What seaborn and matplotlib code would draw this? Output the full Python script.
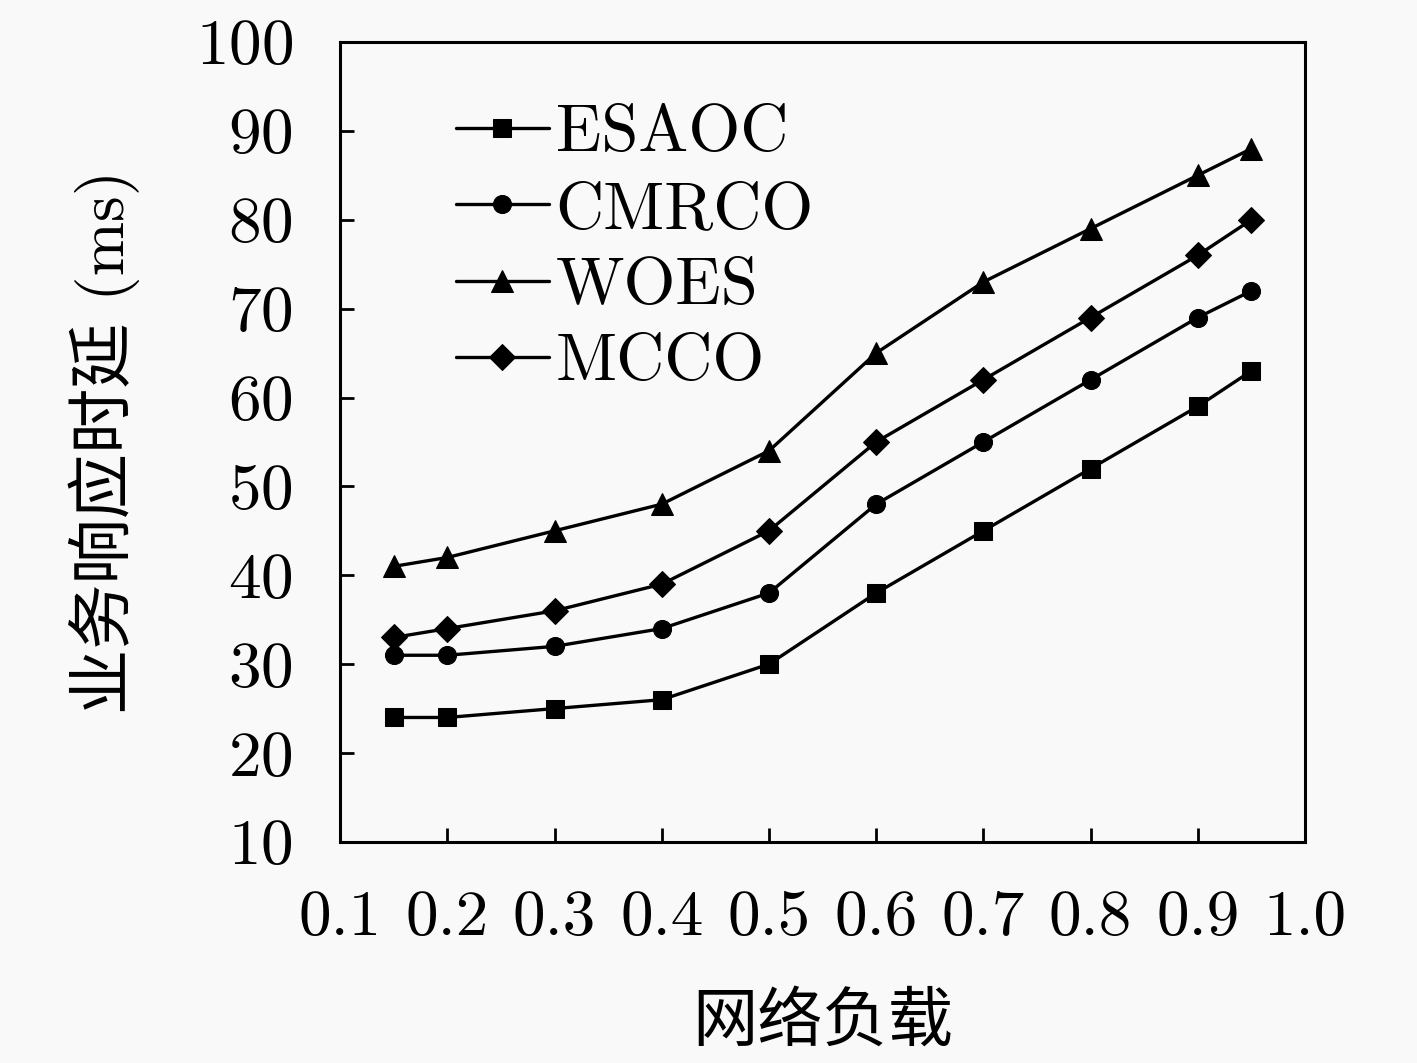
import numpy as np
import pandas as pd
import matplotlib
matplotlib.use("Agg")
import matplotlib.pyplot as plt
import seaborn as sns

# network load
load = [0.15, 0.2, 0.3, 0.4, 0.5, 0.6, 0.7, 0.8, 0.9, 0.95]
esaoc = [24, 24, 25, 26, 30, 38, 45, 52, 59, 63]
cmrco = [31, 31, 32, 34, 38, 48, 55, 62, 69, 72]
woes = [41, 42, 45, 48, 54, 65, 73, 79, 85, 88]
mcco = [33, 34, 36, 39, 45, 55, 62, 69, 76, 80]
names = ["ESAOC", "CMRCO", "WOES", "MCCO"]

sns.set_theme(style="ticks")
plt.rcParams["font.family"] = ["cmr10", "Noto Sans CJK SC"]
plt.rcParams["axes.formatter.use_mathtext"] = True
plt.rcParams["axes.unicode_minus"] = False
plt.rcParams["text.color"] = "black"
plt.rcParams["axes.labelcolor"] = "black"

df = pd.DataFrame({
    "load": load * 4,
    "delay": esaoc + cmrco + woes + mcco,
    "alg": [n for n in names for _ in load],
})

fig = plt.figure(figsize=(14.17, 10.63), dpi=100)
fig.patch.set_facecolor("#f9f9f9")
ax = fig.add_axes([0.24, 0.208, 0.681, 0.7525])
ax.set_facecolor("#f9f9f9")

sns.lineplot(data=df, x="load", y="delay", hue="alg", style="alg",
             hue_order=names, style_order=names,
             palette=["black"] * 4, markers=["s", "o", "^", "D"], dashes=False,
             linewidth=2.4, markersize=13, markeredgecolor="black", ax=ax)
for ln in ax.lines:
    if ln.get_marker() == "^":
        ln.set_markersize(16)

ax.set_xlim(0.1, 1.0)
ax.set_ylim(10, 100)
ax.set_xticks(np.arange(0.1, 1.01, 0.1))
ax.set_xticklabels(["%.1f" % v for v in np.arange(0.1, 1.01, 0.1)])
ax.set_yticks(range(10, 101, 10))
ax.tick_params(direction="in", length=10, width=2, labelsize=47,
               colors="black")
ax.tick_params(axis="x", pad=35)
ax.tick_params(axis="y", pad=34)
for s in ax.spines.values():
    s.set_linewidth(2.2)
    s.set_color("black")

ax.set_xlabel("网络负载", fontsize=47, labelpad=32)
ax.set_ylabel("业务响应时延 (ms)", fontsize=47, labelpad=40)

leg = ax.legend(loc="upper left", bbox_to_anchor=(0.092, 0.955), frameon=False,
                fontsize=48, handlelength=1.4, handletextpad=0.1,
                labelspacing=0.25, borderaxespad=0.0)
for h in leg.legend_handles:
    h.set_markersize(16 if h.get_marker() == "^" else 13)
    h.set_linewidth(2.4)

fig.savefig("out.png", dpi=100, facecolor=fig.get_facecolor())
